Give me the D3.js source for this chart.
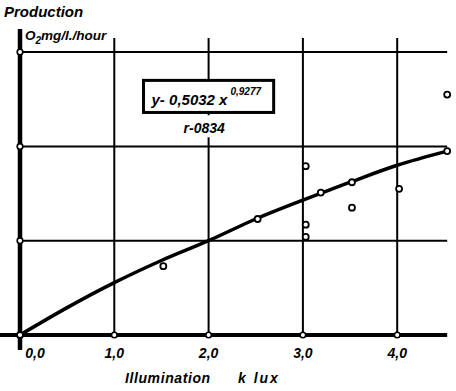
<!DOCTYPE html>
<html><head><meta charset="utf-8">
<script src="https://cdn.jsdelivr.net/npm/d3@7"></script>
<style>
html,body{margin:0;padding:0;background:#fff;}
svg{display:block;}
text{font-family:"Liberation Sans",Arial,sans-serif;font-style:italic;font-weight:bold;fill:#000;}
</style></head>
<body>
<script>
// Data
const xTicks = [0, 1, 2, 3, 4];
const xTickLabels = ["0,0", "1,0", "2,0", "3,0", "4,0"];
const yGrid = [1, 2, 3];
const obsX = [0, 1.52, 2.52, 3.03, 3.03, 3.03, 3.19, 3.52, 3.52, 4.02, 4.53, 4.53];
const obsY = [0, 0.73, 1.23, 1.79, 1.17, 1.04, 1.51, 1.62, 1.35, 1.55, 1.95, 2.55];
const fitX = [0, 0.5, 1, 1.5, 2, 2.5, 3, 3.5, 4, 4.53];
const fitY = [0, 0.29, 0.555, 0.79, 1.0, 1.23, 1.43, 1.62, 1.80, 1.95];

const W = 456, H = 391;
const svg = d3.select("body").append("svg").attr("width", W).attr("height", H);

const x = d3.scaleLinear().domain([0, 4.5]).range([20, 20 + 4.5 * 94.3]);
const y = d3.scaleLinear().domain([0, 3]).range([335, 335 - 3 * 94.3]);
const xEnd = x(4.53);

// grid lines
svg.selectAll(".hg").data(yGrid).enter().append("line")
  .attr("x1", x(0)).attr("x2", xEnd)
  .attr("y1", d => y(d)).attr("y2", d => y(d))
  .attr("stroke", "#000").attr("stroke-width", 2);
svg.selectAll(".vg").data(xTicks.filter(d => d > 0)).enter().append("line")
  .attr("x1", d => x(d)).attr("x2", d => x(d))
  .attr("y1", y(3.15)).attr("y2", y(0))
  .attr("stroke", "#000").attr("stroke-width", 2);

// axes
svg.append("line").attr("x1", 0).attr("x2", xEnd).attr("y1", y(0)).attr("y2", y(0))
  .attr("stroke", "#000").attr("stroke-width", 4);
svg.append("line").attr("x1", x(0)).attr("x2", x(0)).attr("y1", 29).attr("y2", 350)
  .attr("stroke", "#000").attr("stroke-width", 4.5);

// equation box
const bx = x(1.31), by = y(2.7), bw = x(2.69) - x(1.31), bh = y(2.36) - y(2.7);
svg.append("rect").attr("x", bx).attr("y", by).attr("width", bw).attr("height", bh)
  .attr("fill", "#fff").attr("stroke", "#000").attr("stroke-width", 3);
svg.append("rect").attr("x", x(1.7)).attr("y", y(2.33)).attr("width", x(2.4) - x(1.7)).attr("height", 22)
  .attr("fill", "#fff");
const eq = svg.append("text").attr("x", bx + 8).attr("y", by + 25).attr("font-size", 15);
eq.append("tspan").text("y- 0,5032 x");
eq.append("tspan").attr("dy", -10).attr("dx", 3).attr("font-size", 10).text("0,9277");
svg.append("text").attr("x", x(2.0) - 25).attr("y", y(2.14)).attr("font-size", 14).text("r-0834");

// fitted curve
const line = d3.line().x((d, i) => x(fitX[i])).y((d, i) => y(fitY[i])).curve(d3.curveMonotoneX);
svg.append("path").datum(fitY).attr("d", line)
  .attr("fill", "none").attr("stroke", "#000").attr("stroke-width", 3.5);

// tick markers (open circles)
svg.selectAll(".xt").data(xTicks.filter(d => d > 0)).enter().append("circle")
  .attr("cx", d => x(d)).attr("cy", y(0)).attr("r", 2.8)
  .attr("fill", "#fff").attr("stroke", "#000").attr("stroke-width", 1.6);
svg.selectAll(".yt").data(yGrid).enter().append("circle")
  .attr("cx", x(0)).attr("cy", d => y(d)).attr("r", 2.8)
  .attr("fill", "#fff").attr("stroke", "#000").attr("stroke-width", 1.6);

// observations
svg.selectAll(".pt").data(obsX).enter().append("circle")
  .attr("cx", d => x(d)).attr("cy", (d, i) => y(obsY[i])).attr("r", 3)
  .attr("fill", "#fff").attr("stroke", "#000").attr("stroke-width", 1.8);

// tick labels
svg.selectAll(".xl").data(xTicks).enter().append("text")
  .attr("x", (d, i) => i === 0 ? x(d) + 15 : x(d))
  .attr("y", 358).attr("text-anchor", "middle").attr("font-size", 14)
  .text((d, i) => xTickLabels[i]);

// titles
svg.append("text").attr("x", 4).attr("y", 17).attr("font-size", 15).text("Production");
const yt = svg.append("text").attr("x", 25).attr("y", 40).attr("font-size", 13.5);
yt.append("tspan").text("O");
yt.append("tspan").attr("dy", 4).attr("font-size", 10).text("2");
yt.append("tspan").attr("dy", -4).text("mg/l./hour");
svg.append("text").attr("x", 125).attr("y", 383).attr("font-size", 14)
  .attr("letter-spacing", 0.6).text("Illumination");
svg.append("text").attr("x", 238).attr("y", 383).attr("font-size", 14)
  .attr("letter-spacing", 2).text("k lux");
</script>
</body></html>
